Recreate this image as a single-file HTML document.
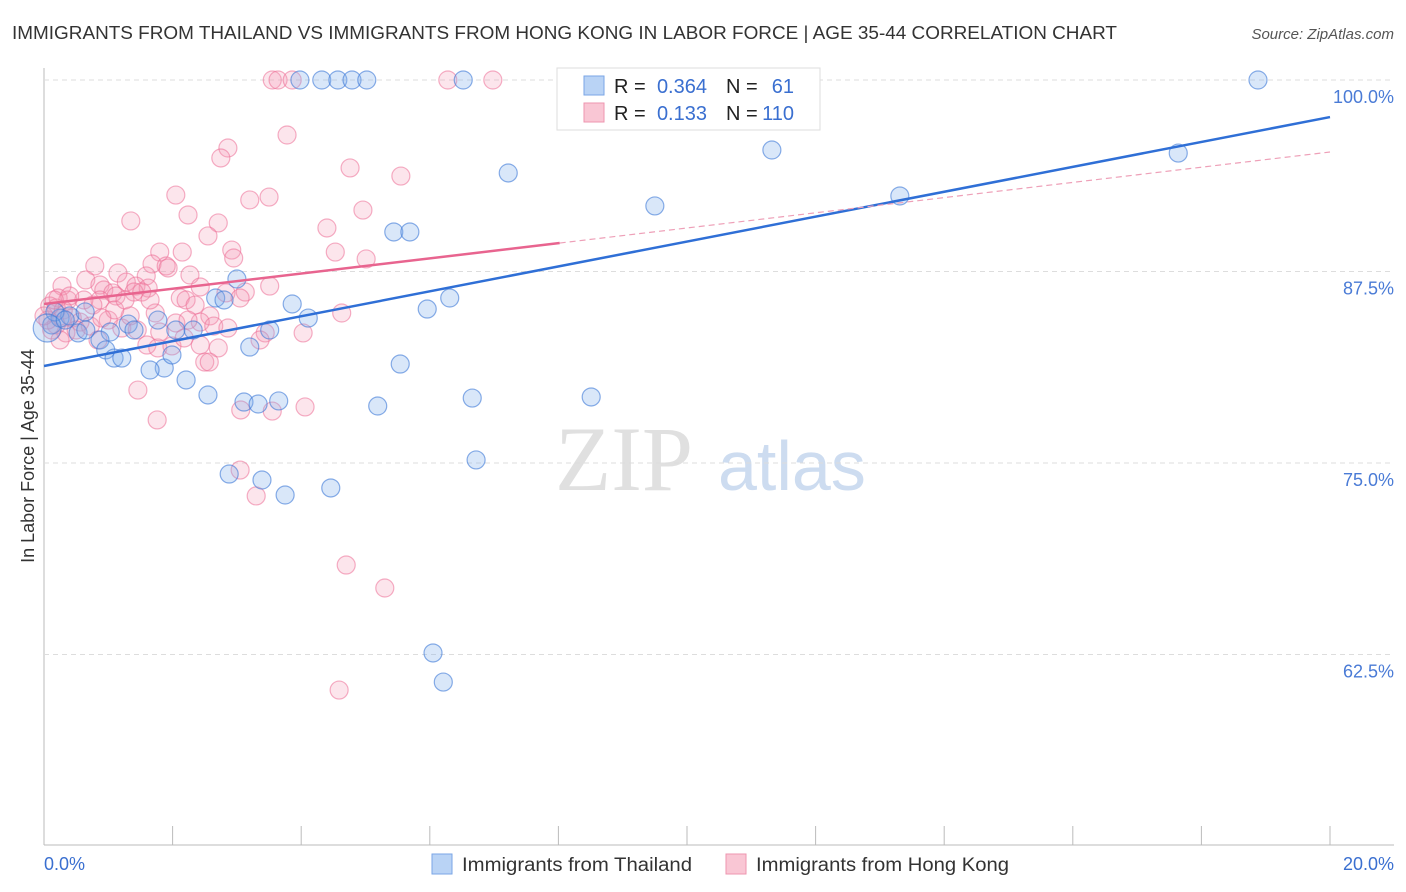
<!DOCTYPE html>
<html><head><meta charset="utf-8"><style>
body{margin:0;background:#fff;font-family:"Liberation Sans",sans-serif}
#wrap{position:relative;width:1406px;height:892px;overflow:hidden}
</style></head><body>
<div id="wrap">
<svg id="svg" width="1406" height="892">
<text x="12" y="39" font-size="18" fill="#333" textLength="1105" lengthAdjust="spacingAndGlyphs">IMMIGRANTS FROM THAILAND VS IMMIGRANTS FROM HONG KONG IN LABOR FORCE | AGE 35-44 CORRELATION CHART</text>
<text x="1394" y="39" font-size="15" fill="#555" font-style="italic" text-anchor="end">Source: ZipAtlas.com</text>
<text x="555" y="490" font-size="92" fill="#e0e0e0" font-family="Liberation Serif">ZIP</text>
<text x="718" y="490" font-size="70" fill="#cddcf0">atlas</text>
<text transform="translate(34,456) rotate(-90)" font-size="18" fill="#333" text-anchor="middle">In Labor Force | Age 35-44</text>
<g id="grid"></g><g id="pts"></g><g id="lines"></g>
<g>
<rect x="557" y="68" width="263" height="62" fill="#fff" stroke="#ddd"/>
<rect x="584" y="76" width="20" height="19" fill="#b9d3f5" stroke="#7aa6e6"/>
<rect x="584" y="103" width="20" height="19" fill="#f9c6d4" stroke="#ee95af"/>
<g font-size="20" fill="#222">
<text x="614" y="93">R =</text><text x="707" y="93" fill="#3a6fd0" text-anchor="end">0.364</text>
<text x="726" y="93">N =</text><text x="794" y="93" fill="#3a6fd0" text-anchor="end">61</text>
<text x="614" y="120">R =</text><text x="707" y="120" fill="#3a6fd0" text-anchor="end">0.133</text>
<text x="726" y="120">N =</text><text x="794" y="120" fill="#3a6fd0" text-anchor="end">110</text>
</g>
</g>
<g>
<rect x="432" y="854" width="20" height="20" fill="#b9d3f5" stroke="#7aa6e6"/>
<text x="462" y="871" font-size="19" fill="#333" textLength="230" lengthAdjust="spacingAndGlyphs">Immigrants from Thailand</text>
<rect x="726" y="854" width="20" height="20" fill="#f9c6d4" stroke="#ee95af"/>
<text x="756" y="871" font-size="19" fill="#333" textLength="253" lengthAdjust="spacingAndGlyphs">Immigrants from Hong Kong</text>
</g>
<text x="44" y="870" font-size="18" fill="#3a6fd0">0.0%</text>
<text x="1394" y="870" font-size="18" fill="#3a6fd0" text-anchor="end">20.0%</text>
</svg></div>
<script>
const blueX=[3.98,4.32,4.57,4.79,5.02,6.52,18.88,11.32,17.64,7.22,13.31,9.50,5.44,5.69,3.00,2.67,2.80,3.86,6.31,5.96,4.11,1.77,1.31,1.40,2.05,2.32,3.51,1.03,0.53,3.20,0.87,0.96,1.09,1.21,1.87,1.65,1.99,5.54,2.21,2.55,5.19,6.66,8.51,3.11,3.33,3.65,2.88,3.39,3.75,4.46,6.72,6.05,6.21,0.12,0.25,0.40,0.64,0.17,0.65,0.05,0.33];
const blueY=[100,100,100,100,100,100,100,95.43,95.23,93.93,92.43,91.78,90.08,90.08,87.01,85.77,85.64,85.38,85.77,85.05,84.46,84.33,84.07,83.68,83.68,83.68,83.68,83.55,83.49,82.57,83.03,82.38,81.85,81.85,81.20,81.07,82.05,81.46,80.42,79.44,78.72,79.24,79.31,78.98,78.85,79.05,74.28,73.89,72.91,73.37,75.20,62.60,60.70,84.01,84.46,84.60,84.86,84.86,83.68,83.81,84.33];
const pinkX=[3.55,3.64,3.86,6.28,6.98,3.78,2.86,2.75,4.76,5.55,2.05,3.50,3.20,2.24,4.96,1.35,2.71,4.40,2.55,2.92,1.80,2.15,4.53,2.95,5.01,0.79,1.68,1.90,1.93,2.27,1.15,1.59,3.51,1.28,0.28,0.65,0.87,1.43,1.62,0.93,1.07,2.43,3.13,2.83,0.22,0.37,0.87,1.12,1.40,1.52,2.12,2.21,2.58,4.63,1.73,3.05,0.09,0.19,0.30,0.44,0.56,0.72,1.21,1.45,2.05,2.43,2.64,2.86,3.44,4.03,0.19,0.34,0.84,1.60,1.77,1.99,2.43,2.71,2.50,2.57,2.18,1.46,1.76,3.06,3.55,4.06,3.05,3.30,4.70,5.30,4.59,0.12,0.06,0.25,1.00,0.62,0.50,0.76,1.34,1.80,1.10,1.26,2.35,1.65,0.90,0.40,0.16,0.00,2.24,0.28,3.36];
const pinkY=[100,100,100,100,100,96.41,95.56,94.91,94.26,93.73,92.49,92.36,92.17,91.19,91.51,90.80,90.67,90.34,89.82,88.90,88.77,88.77,88.77,88.38,88.32,87.86,87.99,87.86,87.73,87.27,87.40,87.21,86.55,86.81,86.55,86.95,86.62,86.55,86.42,86.29,86.10,86.49,86.16,86.10,85.77,85.64,85.64,85.90,86.16,86.16,85.77,85.64,84.60,84.79,84.79,85.77,85.25,85.12,84.99,84.46,84.20,83.94,83.81,83.68,84.14,84.20,83.94,83.81,83.49,83.49,84.01,83.49,83.03,82.70,82.51,82.64,82.70,82.51,81.59,81.59,83.16,79.76,77.81,78.46,78.39,78.66,74.54,72.85,68.34,66.84,60.18,83.68,84.33,83.03,84.33,85.64,83.68,85.31,84.60,83.55,84.99,85.64,85.31,85.64,84.46,85.90,85.64,84.60,84.33,84.46,83.03];
const yTicks=[100,87.5,75,62.5];
const yTickLabels=["100.0%","87.5%","75.0%","62.5%"];
const blueTrend=[81.33,97.58];
const pinkTrend=[85.38,95.30];
const pinkSolidEnd=8.02;
const NS="http://www.w3.org/2000/svg";
const sx=v=>44+v/20*1286, sy=v=>80+(100-v)/12.5*191.5;
function mk(tag,at,parent){const e=document.createElementNS(NS,tag);for(const k in at)e.setAttribute(k,at[k]);document.getElementById(parent).appendChild(e);return e;}
let e=mk('line',{x1:44,y1:68,x2:44,y2:845,stroke:'#bbb'},'grid');


e=mk('line',{x1:44,y1:845,x2:1394,y2:845,stroke:'#bbb'},'grid');


for(let i=1;i<=10;i++){e=mk('line',{x1:sx(i*2),y1:826,x2:sx(i*2),y2:845,stroke:'#bbb'},'grid');

}
yTicks.forEach((t,i)=>{e=mk('line',{x1:44,y1:sy(t),x2:1394,y2:sy(t),stroke:'#ddd','stroke-dasharray':'5,4'},'grid');


e=mk('text',{x:1394,y:sy(t)+23,'font-size':18,fill:'#4a7bd6','text-anchor':'end'},'grid');e.textContent=yTickLabels[i];

});
pinkX.forEach((x,i)=>{e=mk('circle',{cx:sx(x),cy:sy(pinkY[i]),r:9,fill:'rgba(244,150,180,0.25)',stroke:'rgba(236,110,150,0.55)','stroke-width':1.2},'pts');

});
blueX.forEach((x,i)=>{e=mk('circle',{cx:sx(x),cy:sy(blueY[i]),r:(i==blueX.length-2?14:9),fill:'rgba(130,175,235,0.3)',stroke:'rgba(60,120,215,0.6)','stroke-width':1.2},'pts');

});
e=mk('line',{x1:sx(0),y1:sy(blueTrend[0]),x2:sx(20),y2:sy(blueTrend[1]),stroke:'#2f6fd6','stroke-width':2.5},'lines');


const pv=x=>pinkTrend[0]+(pinkTrend[1]-pinkTrend[0])*x/20;
e=mk('line',{x1:sx(0),y1:sy(pv(0)),x2:sx(pinkSolidEnd),y2:sy(pv(pinkSolidEnd)),stroke:'#e8648f','stroke-width':2.5},'lines');


e=mk('line',{x1:sx(pinkSolidEnd),y1:sy(pv(pinkSolidEnd)),x2:sx(20),y2:sy(pv(20)),stroke:'#eea0b8','stroke-width':1.2,'stroke-dasharray':'6,4'},'lines');


</script>
</body></html>
